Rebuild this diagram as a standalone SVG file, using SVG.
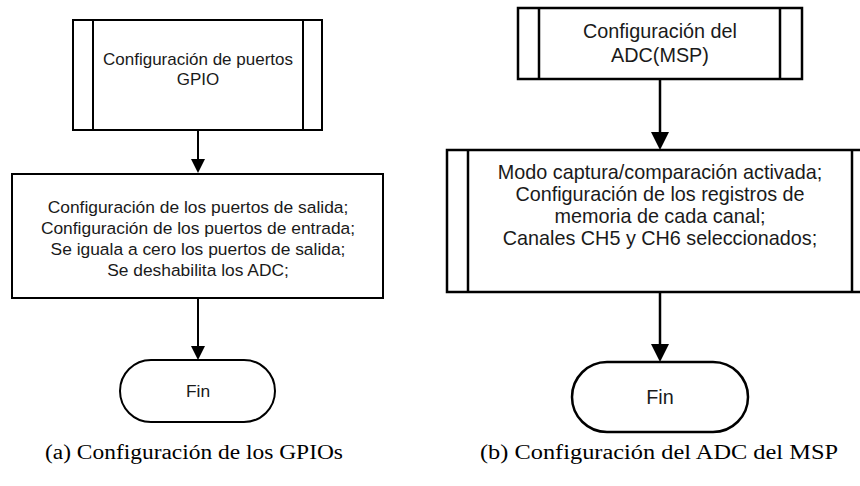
<svg xmlns="http://www.w3.org/2000/svg" width="860" height="486" viewBox="0 0 860 486">
<style>
.box{fill:#fff;stroke:#000;stroke-width:2}
.boxb{fill:#fff;stroke:#000;stroke-width:2.5}
.t{font-family:"Liberation Sans",Arial,sans-serif;font-size:17.4px;fill:#1a1a1a;text-anchor:middle}
.tb{font-family:"Liberation Sans",Arial,sans-serif;font-size:19.8px;fill:#1a1a1a;text-anchor:middle}
.cap{font-family:"Liberation Serif","Times New Roman",serif;font-size:20px;fill:#000;text-anchor:middle}
.ln{stroke:#000;stroke-width:2;fill:none}
.lnb{stroke:#000;stroke-width:2.5;fill:none}
</style>
<rect width="860" height="486" fill="#fff"/>
<g id="connectors">
<line class="ln" x1="198" y1="130" x2="198" y2="160"/>
<polygon points="191,159 205,159 198,173"/>
<line class="ln" x1="198" y1="298" x2="198" y2="347"/>
<polygon points="191,346 205,346 198,360"/>
<line class="lnb" x1="660" y1="79" x2="660" y2="133"/>
<polygon points="651,132 669,132 660,150"/>
<line class="lnb" x1="660" y1="292" x2="660" y2="345"/>
<polygon points="651,344 669,344 660,362"/>
</g>
<g id="gpio-config">
<rect class="box" x="73" y="20" width="249" height="110"/>
<line class="ln" x1="93" y1="20" x2="93" y2="130"/>
<line class="ln" x1="303" y1="20" x2="303" y2="130"/>
<text class="t" x="198" y="65" style="font-size:17px">Configuración de puertos</text>
<text class="t" x="198" y="85" style="font-size:17px">GPIO</text>
</g>
<g id="gpio-steps">
<rect class="box" x="12" y="174" width="371" height="124"/>
<text class="t" x="198" y="213">Configuración de los puertos de salida;</text>
<text class="t" x="198" y="234">Configuración de los puertos de entrada;</text>
<text class="t" x="198" y="255">Se iguala a cero los puertos de salida;</text>
<text class="t" x="198" y="276">Se deshabilita los ADC;</text>
</g>
<g id="fin-a">
<rect class="box" x="120" y="360" width="155" height="62" rx="31" ry="31"/>
<text class="t" x="198" y="397">Fin</text>
</g>
<g id="adc-config">
<rect class="boxb" x="518" y="8" width="284" height="71"/>
<line class="lnb" x1="539" y1="8" x2="539" y2="79"/>
<line class="lnb" x1="780" y1="8" x2="780" y2="79"/>
<text class="tb" x="660" y="38">Configuración del</text>
<text class="tb" x="660" y="62">ADC(MSP)</text>
</g>
<g id="adc-steps">
<rect class="boxb" x="447" y="150" width="426" height="142"/>
<line class="lnb" x1="468" y1="150" x2="468" y2="292"/>
<line class="lnb" x1="852" y1="150" x2="852" y2="292"/>
<text class="tb" x="660" y="179">Modo captura/comparación activada;</text>
<text class="tb" x="660" y="201">Configuración de los registros de</text>
<text class="tb" x="660" y="223">memoria de cada canal;</text>
<text class="tb" x="660" y="245">Canales CH5 y CH6 seleccionados;</text>
</g>
<g id="fin-b">
<rect class="boxb" x="572" y="362" width="176" height="70" rx="35" ry="35"/>
<text class="tb" x="660" y="404">Fin</text>
</g>
<g id="captions">
<text class="cap" x="194" y="459" textLength="298" lengthAdjust="spacingAndGlyphs">(a) Configuración de los GPIOs</text>
<text class="cap" x="659" y="459" textLength="358" lengthAdjust="spacingAndGlyphs">(b) Configuración del ADC del MSP</text>
</g>
</svg>
